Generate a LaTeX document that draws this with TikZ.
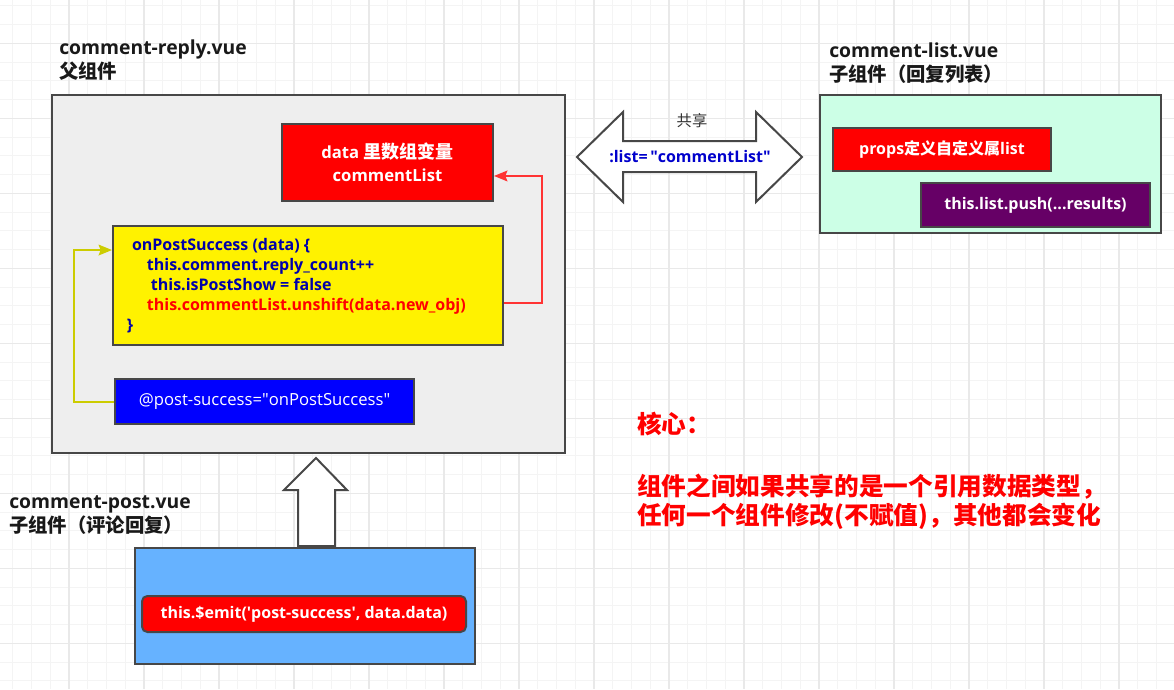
\documentclass[tikz,border=0pt]{standalone}
\usepackage{fontspec}
\setmainfont{Open Sans}
\newfontfamily\cjk{Noto Sans CJK SC}
\usepackage{tikz}
\usetikzlibrary{arrows.meta}
\definecolor{gridMinor}{HTML}{F4F4F4}
\definecolor{gridMajor}{HTML}{E9E9E9}
\definecolor{edgeGray}{HTML}{474747}
\definecolor{parentGray}{HTML}{EEEEEE}
\definecolor{listMint}{HTML}{CCFFE6}
\definecolor{postBlue}{HTML}{66B2FF}
\definecolor{pushPurple}{HTML}{660066}
\definecolor{codeBlue}{HTML}{0000AA}
\definecolor{shareBlue}{HTML}{0000CC}
\definecolor{lineYellow}{HTML}{CCCC00}
\definecolor{lineRed}{HTML}{FF3333}

\begin{document}
\begin{tikzpicture}[x=0.75pt,y=-0.75pt,
  panel/.style={draw=edgeGray,line width=1.5pt,inner sep=0pt},
  whitebold/.style={text=white,font=\bfseries\fontsize{12}{16}\selectfont,align=center},
  title/.style={anchor=north west,inner sep=0pt,align=left,text=black!90,font=\bfseries\fontsize{14.5}{18}\selectfont},
  rednote/.style={anchor=west,inner sep=0pt,align=left,text=red,font=\cjk\bfseries\fontsize{18.5}{21.75}\selectfont},
  blockarrow/.style={draw=edgeGray,line width=1.5pt,fill=white,line join=miter}]

  % background grid
  \fill[white] (0,0) rectangle (1174,689);
  \useasboundingbox (0,0) rectangle (1174,689);
  \foreach \k in {0,...,61}
    \draw[gridMinor,line width=0.75pt] ({12.95+18.75*\k},0) -- ({12.95+18.75*\k},689);
  \foreach \k in {0,...,36}
    \draw[gridMinor,line width=0.75pt] (0,{5.8+18.75*\k}) -- (1174,{5.8+18.75*\k});
  \foreach \k in {3,7,...,59}
    \draw[gridMajor,line width=1.1pt] ({12.95+18.75*\k},0) -- ({12.95+18.75*\k},689);
  \foreach \k in {2,6,...,34}
    \draw[gridMajor,line width=1.1pt] (0,{5.8+18.75*\k}) -- (1174,{5.8+18.75*\k});

  % parent component
  \node[title] (replyt) at (59,40) {comment-reply.vue\\{\cjk 父组件}};
  \node[panel,fill=parentGray,minimum width=384.75pt,minimum height=268.5pt] (reply) at (308.5,274) {};
  \node[panel,fill=red,minimum width=158.25pt,minimum height=57.75pt,whitebold,font=\bfseries\fontsize{12.5}{17}\selectfont] (data) at (387.5,162.5)
    {data {\cjk\fontsize{13.5}{17}\selectfont 里数组变量}\\commentList};
  \node[panel,fill=yellow,minimum width=292.5pt,minimum height=89.25pt] (handler) at (308,285.5) {};
  \node[anchor=west,inner sep=0pt,align=left,text=codeBlue,font=\bfseries\fontsize{12}{15}\selectfont] (code) at (126,285.8)
    {\hspace*{4.3pt}onPostSuccess (data) \{\\
     \hspace*{15.5pt}this.comment.reply\_count++\\
     \hspace*{18.5pt}this.isPostShow = false\\
     \hspace*{15.5pt}\textcolor{red}{this.commentList.unshift(data.new\_obj)}\\
     \hspace*{0.5pt}\}};
  \node[panel,fill=blue,minimum width=224.25pt,minimum height=33.75pt,text=white,font=\fontsize{12.5}{15}\selectfont] (listen) at (264.5,401.5)
    {@post-success=\textquotedbl onPostSuccess\textquotedbl};

  \draw[lineRed,line width=1.5pt,-{Stealth[length=10pt,width=8pt,inset=1.5pt]}]
    ([yshift=-13.1pt]handler.east) -- ++(28.5pt,0) |- ([yshift=-10.1pt]data.east);
  \draw[lineYellow,line width=1.5pt,-{Stealth[length=10pt,width=8pt,inset=1.5pt]}]
    (listen.west) -- ++(-30pt,0) |- ([yshift=26.6pt]handler.west);

  % shared list
  \draw[blockarrow] (577,157) -- (623,112) -- (623,141) -- (756,141) -- (756,112) -- (802,157)
    -- (756,202) -- (756,172) -- (623,172) -- (623,202) -- cycle;
  \node[text=black!80,font=\cjk\fontsize{11.5}{13}\selectfont] (share) at (692,121) {共享};
  \node[text=shareBlue,font=\bfseries\fontsize{12}{13}\selectfont] (bind) at (690,157)
    {:list=\,\textquotedbl commentList\textquotedbl};

  % child list component
  \node[title] (listt) at (829,43) {comment-list.vue\\{\cjk 子组件（回复列表）}};
  \node[panel,fill=listMint,minimum width=255.75pt,minimum height=103.5pt] (list) at (990.5,164) {};
  \node[panel,fill=red,minimum width=163.5pt,minimum height=32.25pt,whitebold] (props) at (942,149.5) {props{\cjk 定义自定义属}list};
  \node[panel,fill=pushPurple,minimum width=171.75pt,minimum height=33pt,whitebold] (push) at (1035.5,205) {this.list.push(...results)};

  % child post component
  \draw[blockarrow] (316,458) -- (347,490) -- (335,490) -- (335,546) -- (298,546) -- (298,490) -- (284,490) -- cycle;
  \node[title] (postt) at (9,495) {comment-post.vue\\{\cjk 子组件（评论回复）}};
  \node[panel,fill=postBlue,minimum width=255pt,minimum height=87pt] (post) at (305,606) {};
  \node[panel,fill=red,rounded corners=4pt,minimum width=243pt,minimum height=27pt,whitebold] (emit) at (304,614)
    {this.\$emit(\textquotesingle post-success\textquotesingle, data.data)};

  % note
  \node[rednote] (core) at (637,424) {核心：};
  \node[rednote] (rule) at (637,501.5) {组件之间如果共享的是一个引用数据类型，\\任何一个组件修改(不赋值)，其他都会变化};
\end{tikzpicture}
\end{document}
